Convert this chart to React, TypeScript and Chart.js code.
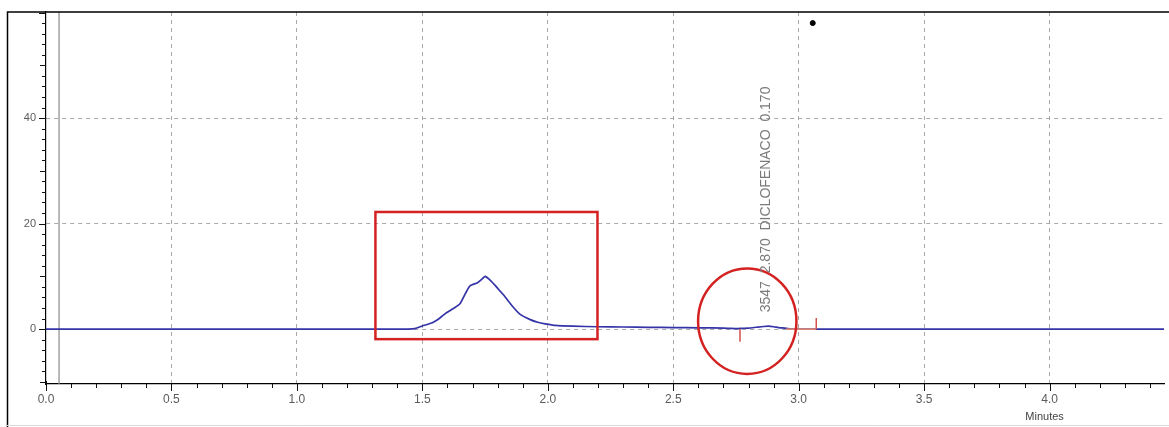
import React, { useEffect, useRef } from "react";
import { Chart, registerables } from "chart.js";

Chart.register(...registerables);

// ---- data ----
const times = [0, 1.4, 1.47, 1.5, 1.54, 1.57, 1.59, 1.62, 1.65, 1.67, 1.69, 1.72, 1.74, 1.75, 1.77, 1.79, 1.81, 1.83, 1.86, 1.89, 1.93, 1.96, 1.99, 2.03, 2.1, 2.2, 2.3, 2.4, 2.5, 2.6, 2.7, 2.76, 2.77, 2.8, 2.83, 2.86, 2.88, 2.9, 2.92, 2.95, 2.97, 4.456];
const signal = [0, 0, 0.1, 0.6, 1.2, 2.1, 2.9, 3.8, 4.8, 6.6, 8.2, 8.8, 9.6, 10.0, 9.3, 8.3, 7.2, 6.1, 4.3, 2.8, 1.8, 1.3, 1.0, 0.7, 0.55, 0.45, 0.4, 0.35, 0.3, 0.25, 0.2, 0.1, 0.15, 0.2, 0.35, 0.5, 0.55, 0.45, 0.3, 0.15, 0, 0];
const peakStart = [2.766, 0, -2.4];
const peakEnd = [3.07, 0, 2.1];
const baselineFit = [2.95, 3.07];
const injectionTime = 0.052;
const markerDot = [3.056, 58];
const peakLabel = "3547  2.870  DICLOFENACO  0.170";
const xTickLabels = ["0.0", "0.5", "1.0", "1.5", "2.0", "2.5", "3.0", "3.5", "4.0"];
const yTickLabels = ["0", "20", "40"];

const X_MIN = 0;
const X_MAX = 4.456;
const Y_MIN = -10.4;
const Y_MAX = 60.1;

const overlay = {
  id: "overlay",
  afterDraw(chart: any) {
    const { ctx, chartArea } = chart;
    const xs = chart.scales.x;
    const ys = chart.scales.y;
    const px = (v: number) => xs.getPixelForValue(v);
    const py = (v: number) => ys.getPixelForValue(v);
    ctx.save();
    // frame
    ctx.strokeStyle = "#000";
    ctx.lineWidth = 1.5;
    ctx.beginPath();
    ctx.moveTo(7.5, 427);
    ctx.lineTo(7.5, chartArea.top);
    ctx.lineTo(1169, chartArea.top);
    ctx.stroke();
    ctx.strokeStyle = "#d8d8d8";
    ctx.lineWidth = 1;
    ctx.beginPath();
    ctx.moveTo(7, 425.5);
    ctx.lineTo(1169, 425.5);
    ctx.stroke();

    // axis ticks
    ctx.strokeStyle = "#111";
    ctx.lineWidth = 1;
    ctx.beginPath();
    for (let i = -5; i <= 30; i++) {
      const v = i * 2;
      const len = v % 20 === 0 ? 7 : v % 10 === 0 ? 6 : 4;
      const y = Math.round(py(v)) + 0.5;
      ctx.moveTo(chartArea.left, y);
      ctx.lineTo(chartArea.left - len, y);
    }
    for (let i = 0; i <= 44; i++) {
      const v = i / 10;
      const len = i % 5 === 0 ? 7 : 4;
      const x = Math.round(px(v)) + 0.5;
      ctx.moveTo(x, chartArea.bottom - (i === 0 ? 3 : 0));
      ctx.lineTo(x, chartArea.bottom + len);
    }
    ctx.stroke();

    // red rectangle
    ctx.strokeStyle = "#d42222";
    ctx.lineWidth = 2.5;
    const rx1 = px(1.313), rx2 = px(2.198), ry1 = py(22.2), ry2 = py(-1.9);
    ctx.strokeRect(rx1, ry1, rx2 - rx1, ry2 - ry1);
    // red circle
    const cx = px(2.795), cy = py(1.5);
    const erx = px(2.795 + 0.196) - cx;
    const ery = py(1.5) - py(11.5);
    ctx.beginPath();
    ctx.ellipse(cx, cy, erx, ery, 0, 0, Math.PI * 2);
    ctx.stroke();

    // rotated peak label
    ctx.fillStyle = "#7a7a7a";
    ctx.font = "14px 'Liberation Sans', Arial, sans-serif";
    ctx.textAlign = "left";
    ctx.textBaseline = "alphabetic";
    ctx.translate(px(2.885), py(3.2));
    ctx.rotate(-Math.PI / 2);
    ctx.fillText(peakLabel, 0, 0);
    ctx.restore();

    // Minutes label
    ctx.save();
    ctx.fillStyle = "#444";
    ctx.font = "11px 'Liberation Sans', Arial, sans-serif";
    ctx.textAlign = "center";
    ctx.textBaseline = "middle";
    ctx.fillText("Minutes", px(3.98), chartArea.bottom + 33);
    ctx.restore();
  },
};

export default function App() {
  const ref = useRef<HTMLCanvasElement | null>(null);
  useEffect(() => {
    if (!ref.current) return;
    const pts = times.map((t, i) => ({ x: t, y: signal[i] }));
    const chart = new Chart(ref.current, {
      type: "line",
      data: {
        datasets: [
          {
            data: [
              { x: injectionTime, y: Y_MIN },
              { x: injectionTime, y: Y_MAX },
            ],
            borderColor: "#8a8a8a",
            borderWidth: 1.2,
            pointRadius: 0,
            order: 5,
          },
          {
            data: pts,
            borderColor: "#3434a8",
            borderWidth: 1.7,
            pointRadius: 0,
            tension: 0.2,
            order: 3,
          },
          {
            data: [
              { x: baselineFit[0], y: 0 },
              { x: baselineFit[1], y: 0 },
            ],
            borderColor: "#e88a70",
            borderWidth: 1.6,
            pointRadius: 0,
            order: 2,
          },
          {
            data: [
              { x: peakStart[0], y: peakStart[1] },
              { x: peakStart[0], y: peakStart[2] },
            ],
            borderColor: "#d4504a",
            borderWidth: 1.5,
            pointRadius: 0,
            order: 1,
          },
          {
            data: [
              { x: peakEnd[0], y: peakEnd[1] },
              { x: peakEnd[0], y: peakEnd[2] },
            ],
            borderColor: "#d4504a",
            borderWidth: 1.5,
            pointRadius: 0,
            order: 1,
          },
          {
            type: "scatter",
            data: [{ x: markerDot[0], y: markerDot[1] }],
            backgroundColor: "#000",
            borderColor: "#000",
            pointRadius: 2.5,
            order: 0,
          } as any,
        ],
      },
      options: {
        responsive: false,
        animation: false,
        layout: { padding: { top: 12, left: 0, right: 0, bottom: 0 } },
        plugins: { legend: { display: false }, tooltip: { enabled: false } },
        scales: {
          x: {
            type: "linear",
            min: X_MIN,
            max: X_MAX,
            afterFit: (s: any) => {
              s.height = 43;
              s.paddingLeft = 0;
              s.paddingRight = 0;
            },
            ticks: {
              stepSize: 0.5,
              includeBounds: false,
              autoSkip: false,
              maxRotation: 0,
              padding: 8,
              color: "#5a5a5a",
              font: { family: "'Liberation Sans', Arial, sans-serif", size: 12 },
              callback: (v: any) => {
                const i = Math.round(Number(v) * 2);
                return xTickLabels[i] ?? "";
              },
            },
            grid: {
              drawTicks: false,
              color: (c: any) => (c.tick && c.tick.value === 0 ? "rgba(0,0,0,0)" : "#a8a8a8"),
              lineWidth: 1,
              borderDash: [4, 4],
            } as any,
            border: { display: true, color: "#000", width: 1.2, dash: [4, 4] } as any,
          },
          y: {
            type: "linear",
            min: Y_MIN,
            max: Y_MAX,
            afterFit: (s: any) => {
              s.width = 46;
              s.paddingTop = 0;
              s.paddingBottom = 0;
            },
            ticks: {
              stepSize: 20,
              includeBounds: false,
              padding: 10,
              color: "#5a5a5a",
              font: { family: "'Liberation Sans', Arial, sans-serif", size: 11 },
              callback: (v: any) => {
                const i = Math.round(Number(v) / 20);
                return yTickLabels[i] ?? "";
              },
            },
            grid: {
              drawTicks: false,
              color: (c: any) => (c.tick && c.tick.value >= 60 ? "rgba(0,0,0,0)" : "#a8a8a8"),
              lineWidth: 1,
              borderDash: [4, 4],
            } as any,
            border: { display: true, color: "#000", width: 1.2, dash: [4, 4] } as any,
          },
        },
      },
      plugins: [overlay],
    } as any);
    return () => chart.destroy();
  }, []);
  return (
    <div style={{ position: "fixed", left: 0, top: 0, width: 1169, height: 427, background: "#fff" }}>
      <canvas ref={ref} width={1169} height={427} style={{ width: 1169, height: 427, display: "block" }} />
    </div>
  );
}
